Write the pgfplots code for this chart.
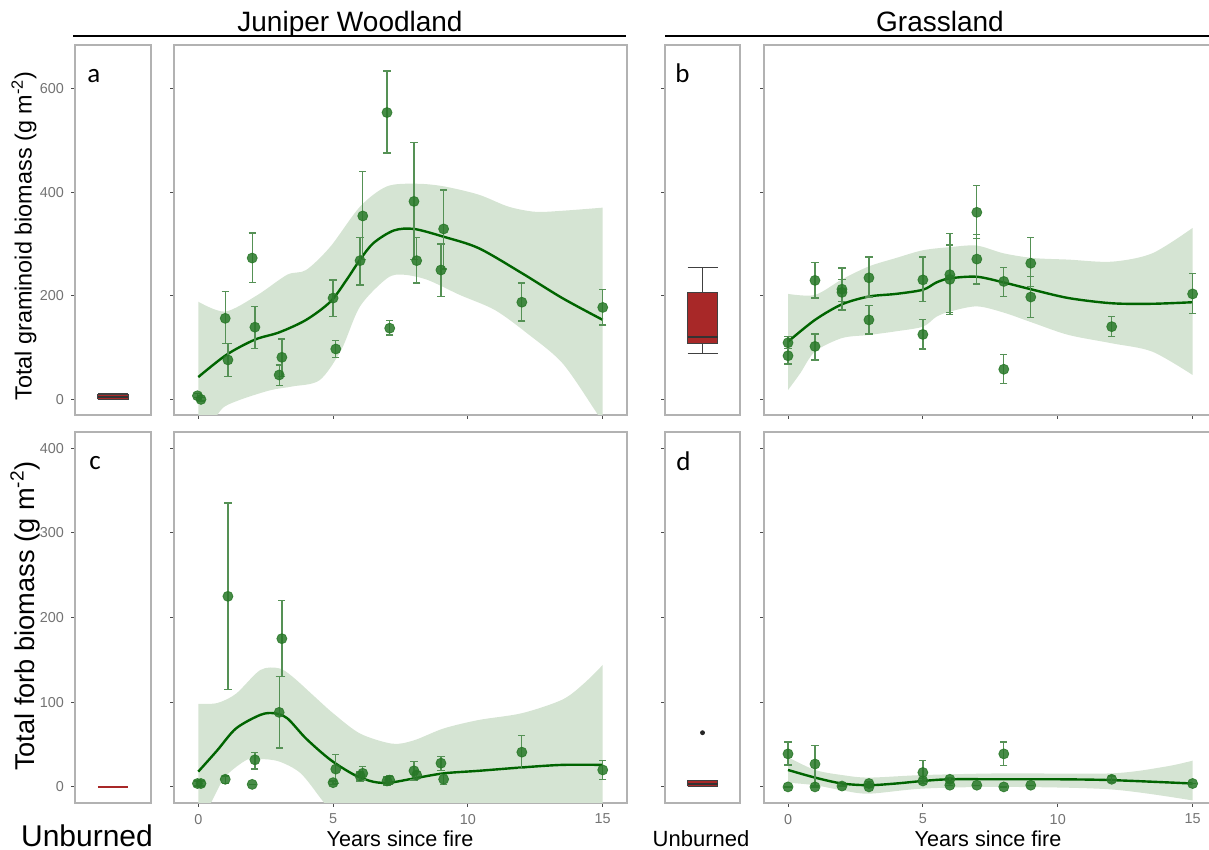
\documentclass[border=0pt]{standalone}
\usepackage{fontspec}
\setmainfont{Liberation Sans}
\newfontfamily\panelfont{Carlito}
\usepackage{pgfplots}
\usepackage{pgfplotstable}
\pgfplotsset{compat=1.18}
\usepgfplotslibrary{fillbetween}

\definecolor{ptgreen}{RGB}{40,120,40}
\definecolor{errgreen}{RGB}{85,145,85}
\definecolor{linegreen}{RGB}{0,100,0}
\definecolor{bandgreen}{RGB}{213,228,211}
\definecolor{boxred}{RGB}{168,40,40}

% x y ep em  (value, upper and lower error)
\pgfplotstableread{
x y ep em
-0.03 8 4 4
0.1 1 3 3
1.0 157 51 49
1.1 77 32 32
2.0 273 48 47
2.1 140 40 41
3.0 48 19 20
3.1 82 35 37
5.0 196 35 36
5.1 98 16 16
6.0 268 44 47
6.1 354 86 84
7.0 553 80 78
7.1 138 15 13
8.0 382 113 112
8.1 268 44 43
9.0 250 50 51
9.1 329 75 77
12.0 188 37 36
15.0 178 34 34
}\tabA
\pgfplotstableread{
x y ep em
0.0 110 12 11
0.0 85 14 16
1.0 230 34 34
1.0 103 24 26
2.0 213 41 40
2.0 207 25 18
3.0 235 40 37
3.0 154 28 27
5.0 231 44 42
5.0 126 29 28
6.0 241 79 77
6.0 232 66 64
7.0 361 51 50
7.0 271 47 48
8.0 228 27 29
8.0 59 28 27
9.0 263 50 45
9.0 198 39 39
12.0 141 19 19
15.0 204 39 38
}\tabB
\pgfplotstableread{
x y ep em
-0.03 4 3 3
0.1 4 3 3
1.0 9 4 5
1.1 225 110 110
2.0 3 0 0
2.1 32 9 11
3.0 88 42 42
3.1 175 45 45
5.0 5 2 2
5.1 21 17 17
6.0 13 5 6
6.1 16 8 8
7.0 7 5 5
7.1 8 5 5
8.0 19 11 11
8.1 14 4 4
9.0 28 8 9
9.1 9 6 6
12.0 41 20 19
15.0 20 11 11
}\tabC
\pgfplotstableread{
x y ep em
0 39 14 13
0 0 0 0
1 27 22 26
1 0 0 0
2 1 0 0
3 4 2 2
3 0 0 0
5 17 14 10
5 7 3 3
6 9 2 4
6 2 0 0
7 2 0 0
8 39 14 14
8 0 0 0
9 2 0 0
12 9 4 4
15 4 0 0
}\tabD

\pgfplotsset{
  panel/.style={scale only axis, anchor=south west,
    axis line style={draw=black!30, line width=0.6pt},
    tick align=outside, major tick length=2pt,
    tick style={draw=black!70, line width=0.5pt},
    xtick pos=left, ytick pos=left,
    tick label style={font=\fontsize{7.2}{8}\selectfont, text=black!55},
    /pgf/number format/assume math mode=true},
  toprow/.style={height=185pt, ymin=-29, ymax=683, ytick={0,200,400,600}},
  botrow/.style={height=185.5pt, ymin=-19, ymax=419, ytick={0,100,200,300,400}},
  ub/.style={width=38pt, xmin=0, xmax=1, xtick=\empty},
  mainL/.style={width=226.5pt, xmin=-0.9, xmax=15.9, xtick={0,5,10,15}, yticklabels={}},
  mainR/.style={width=225.5pt, xmin=-0.89, xmax=15.83, xtick={0,5,10,15}, yticklabels={}},
  pts/.style={only marks, mark=*, mark size=2.5pt, color=ptgreen,
    mark options={fill opacity=0.85, draw opacity=0.85},
    error bars/.cd, y dir=both, y explicit,
    error bar style={errgreen, line width=0.65pt},
    error mark options={rotate=90, errgreen, line width=0.65pt, mark size=1.8pt}},
  fit/.style={linegreen, line width=1.2pt, smooth, no marks},
  bnd/.style={draw=none, smooth, no marks},
  bxline/.style={draw=black!75, line width=0.5pt, no marks},
}

% unburned box: lower whisker, lower quartile, median, upper quartile, upper whisker
\newcommand{\ubox}[5]{%
  \addplot[bxline] coordinates {(0.5,#1)(0.5,#2)};
  \addplot[bxline] coordinates {(0.5,#4)(0.5,#5)};
  \addplot[bxline] coordinates {(0.3,#1)(0.7,#1)};
  \addplot[bxline] coordinates {(0.3,#5)(0.7,#5)};
  \addplot[bxline, fill=boxred] coordinates {(0.3,#2)(0.7,#2)(0.7,#4)(0.3,#4)(0.3,#2)};
  \addplot[bxline, line width=1pt, draw=black!80] coordinates {(0.3,#3)(0.7,#3)};
}

\begin{document}
\begin{tikzpicture}

% ---- a: unburned
\begin{axis}[panel, toprow, ub, at={(37.5pt,217.5pt)}]
\ubox{0}{1}{5}{11}{13}
\end{axis}
% ---- a: burned
\begin{axis}[panel, toprow, mainL, xticklabels={}, at={(87pt,217.5pt)}]
\addplot[bnd, name path=up] coordinates {(0,189)(1,170)(2.2,202)(3.3,241)(4,250)(4.9,295)(6,372)(7,411)(8.1,416)(9.1,411)(10.4,395)(11.5,372)(12.5,362)(13.5,364)(15,370)};
\addplot[bnd, name path=lo] coordinates {(0,-80)(0.7,-29)(1.0,-12)(1.7,3)(2.7,19)(3.5,26)(4.5,38)(5.3,96)(6,180)(7,234)(7.6,241)(8.5,231)(9.7,202)(11,173)(12.2,128)(13.5,71)(14.7,-19)(15,-45)};
\addplot[bandgreen] fill between[of=up and lo];
\addplot[fit] coordinates {(0,44)(1.05,87)(2.1,116)(3,130)(4,154)(4.9,189)(5.5,231)(6,270)(6.5,302)(7.25,326)(8,329)(9.1,314)(10.4,292)(12,244)(13.5,196)(15,154)};
\addplot[pts] table[x=x, y=y, y error plus=ep, y error minus=em] \tabA;
\end{axis}

% ---- b: unburned
\begin{axis}[panel, toprow, ub, width=37.5pt, yticklabels={}, at={(332.5pt,217.5pt)}]
\ubox{89}{108}{122}{207}{255}
\end{axis}
% ---- b: burned
\begin{axis}[panel, toprow, mainR, xticklabels={}, at={(382pt,217.5pt)}]
\addplot[bnd, name path=up] coordinates {(0,204)(1,202)(2,232)(3,257)(4,273)(5,288)(6,294)(7,297)(8,282)(9.1,273)(10.4,270)(12,266)(13.5,282)(15,331)};
\addplot[bnd, name path=lo] coordinates {(0,19)(0.45,51)(1,93)(2,119)(3,125)(4,132)(5,141)(5.5,160)(6,170)(7,180)(8,168)(9.1,148)(10.4,125)(12,109)(13.5,93)(15,48)};
\addplot[bandgreen] fill between[of=up and lo];
\addplot[fit] coordinates {(0,112)(1,154)(2,184)(3,199)(4,204)(5,212)(5.5,226)(6,234)(7,237)(8,226)(9,213)(10.4,196)(12,186)(13.5,185)(15,188)};
\addplot[pts] table[x=x, y=y, y error plus=ep, y error minus=em] \tabB;
\end{axis}

% ---- c: unburned (all zero)
\begin{axis}[panel, botrow, ub, at={(37.5pt,23.5pt)}]
\addplot[boxred, line width=1pt, no marks] coordinates {(0.3,0)(0.7,0)};
\end{axis}
% ---- c: burned
\begin{axis}[panel, botrow, mainL, at={(87pt,23.5pt)}]
\addplot[bnd, name path=up] coordinates {(0,98)(0.7,99)(1.4,110)(2.3,138)(3,140)(3.5,130)(4.3,107)(5,87)(6,63)(7.2,51)(8,55)(9.1,69)(10.4,79)(12,87)(13.5,103)(14.3,122)(15,144)};
\addplot[bnd, name path=lo] coordinates {(0,-45)(0.5,-17)(1,12)(1.8,32)(2.3,33)(3,30)(3.8,16)(4.6,-16)(5.2,-40)(6,-55)(8,-60)(12,-60)(15,-60)};
\addplot[bandgreen] fill between[of=up and lo];
\addplot[fit] coordinates {(0,18)(0.7,43)(1.4,69)(2.3,85)(2.8,87)(3.3,81)(4,57)(4.9,32)(5.8,14)(6.5,6)(7.1,5)(8,10)(9.1,16)(10.4,19)(12,23)(13.5,26)(15,26)};
\addplot[pts] table[x=x, y=y, y error plus=ep, y error minus=em] \tabC;
\end{axis}

% ---- d: unburned
\begin{axis}[panel, botrow, ub, width=37.5pt, yticklabels={}, at={(332.5pt,23.5pt)}]
\ubox{0}{1}{3}{7}{7}
\addplot[only marks, mark=*, mark size=1pt, black!85] coordinates {(0.5,64)};
\end{axis}
% ---- d: burned
\begin{axis}[panel, botrow, mainR, at={(382pt,23.5pt)}]
\addplot[bnd, name path=up] coordinates {(0,35)(1,20)(2,14)(3,11)(5,14)(8,16)(12,16)(14,24)(15,31)};
\addplot[bnd, name path=lo] coordinates {(0,5)(1,2)(2,-4)(3,-8)(5,-2)(8,0)(12,-3)(15,-16)};
\addplot[bandgreen] fill between[of=up and lo];
\addplot[fit] coordinates {(0,20)(1,11)(2,4)(3,2)(4,4)(5,7)(6,9)(8,9)(10,9)(12,8)(15,4)};
\addplot[pts] table[x=x, y=y, y error plus=ep, y error minus=em] \tabD;
\end{axis}

% ---- titles, strip lines, labels
\node[anchor=base, font=\fontsize{14}{16}\selectfont] at (175pt,409.25pt) {Juniper Woodland};
\node[anchor=base, font=\fontsize{14}{16}\selectfont] at (470pt,409.25pt) {Grassland};
\draw[line width=1pt] (36.5pt,407pt) -- (313pt,407pt);
\draw[line width=1pt] (332.5pt,407pt) -- (606pt,407pt);

\node[rotate=90, font=\fontsize{11.7}{13}\selectfont] at (12pt,307pt) {Total graminoid biomass (g m\textsuperscript{-2})};
\node[rotate=90, font=\fontsize{13.6}{15}\selectfont] at (12.5pt,117pt) {Total forb biomass (g m\textsuperscript{-2})};

\node[anchor=base, font=\fontsize{15}{16}\selectfont] at (43.5pt,1.75pt) {Unburned};
\node[anchor=base, font=\fontsize{11}{12}\selectfont] at (350.5pt,1.75pt) {Unburned};
\node[anchor=base, font=\fontsize{10.8}{12}\selectfont] at (200pt,1.75pt) {Years since fire};
\node[anchor=base, font=\fontsize{10.8}{12}\selectfont] at (494pt,1.75pt) {Years since fire};

\node[anchor=base west, inner sep=0pt, font=\panelfont\fontsize{13.5}{15}\selectfont] at (43.5pt,383.5pt) {a};
\node[anchor=base west, inner sep=0pt, font=\panelfont\fontsize{13.5}{15}\selectfont] at (337.5pt,383.5pt) {b};
\node[anchor=base west, inner sep=0pt, font=\panelfont\fontsize{13.5}{15}\selectfont] at (44.5pt,190pt) {c};
\node[anchor=base west, inner sep=0pt, font=\panelfont\fontsize{13.5}{15}\selectfont] at (338pt,189.5pt) {d};

\pgfresetboundingbox
\path[use as bounding box] (0pt,0pt) rectangle (604.5pt,425pt);
\end{tikzpicture}
\end{document}
